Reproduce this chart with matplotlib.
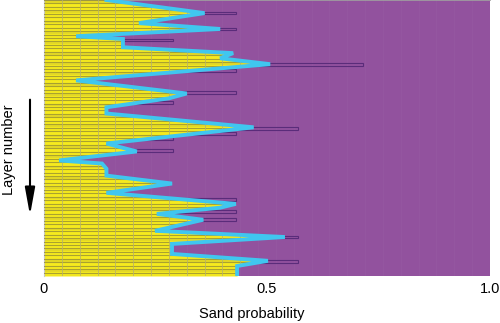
import matplotlib
matplotlib.use("Agg")
import matplotlib.pyplot as plt
import numpy as np
from matplotlib.patches import Polygon

plt.rcParams['font.family'] = ['Liberation Sans', 'DejaVu Sans']

# Profile vertices: layer position (0 = top) and sand probability
layer_pos = [0, 3.8, 6.7, 8.4, 10.5, 11.3, 13.7, 15.4, 16.9, 18.6, 23.3, 27.1, 28.5,
             31.1, 32.9, 36.9, 41.6, 43.9, 46.5, 47.4, 48.9, 50.9, 53.2, 55.9, 59.1,
             60.2, 62.0, 63.7, 66.9, 68.7, 70.7, 73.6, 75.6, 77.1, 80]
sand_prob = [0.14, 0.36, 0.213, 0.395, 0.072, 0.177, 0.177, 0.424, 0.395, 0.507, 0.072,
             0.32, 0.28, 0.14, 0.14, 0.47, 0.14, 0.208, 0.034, 0.13, 0.14, 0.14, 0.287,
             0.14, 0.43, 0.395, 0.253, 0.357, 0.249, 0.54, 0.287, 0.287, 0.502, 0.433, 0.433]

# Upper-bound (outlined) bars
ub_layer = [3.8, 8.4, 11.6, 18.6, 20.4, 26.8, 29.7, 37.2, 38.7, 40.1, 43.6,
            57.9, 61.4, 63.7, 68.7, 75.9]
ub_value = [0.43, 0.43, 0.29, 0.715, 0.43, 0.43, 0.29, 0.57, 0.43, 0.29, 0.29,
            0.43, 0.43, 0.43, 0.57, 0.57]

n_layers = 80
xticks = [0, 0.5, 1.0]
xticklabels = ["0", "0.5", "1.0"]

purple = '#92529e'
yellow = '#f6ea1e'
cyan = '#40c6ef'
olive = '#9d9632'
edge_purple = '#5a2c7a'

fig = plt.figure(figsize=(5.0, 3.23), dpi=100)
ax = fig.add_axes([0.088, 0.1455, 0.892, 0.8545])
ax.set_facecolor(purple)
ax.set_xlim(0, 1)
ax.set_ylim(n_layers, 0)

# very faint vertical lines in purple region
for xv in np.arange(0.04, 1.0, 0.04):
    ax.axvline(xv, color='#9658a2', lw=0.5, zorder=0.5)

# upper-bound outlined bars
ax.barh(ub_layer, ub_value, height=0.8, left=0, fill=False,
        edgecolor=edge_purple, linewidth=0.8, zorder=1)

# yellow filled area
ax.fill_betweenx(layer_pos, 0, sand_prob, color=yellow, lw=0, zorder=2)
verts = np.column_stack([np.r_[0, sand_prob, 0], np.r_[layer_pos[0], layer_pos, layer_pos[-1]]])
clip = Polygon(verts, closed=True, transform=ax.transData, facecolor='none', edgecolor='none')
ax.add_patch(clip)

# layer stripes inside yellow
for i in range(n_layers + 1):
    ln = ax.axhline(i, color=olive, lw=0.8, alpha=0.85, zorder=3)
    ln.set_clip_path(clip)
for i in range(0, n_layers, 3):
    band = ax.axhspan(i + 0.2, i + 0.8, color='#d8cf2a', lw=0, alpha=0.6, zorder=2.5)
    band.set_clip_path(clip)
for xv in np.arange(0.04, 1.0, 0.04):
    ln = ax.axvline(xv, color='#b8b26a', lw=0.7, alpha=0.8, zorder=3)
    ln.set_clip_path(clip)

# profile line
ax.plot(sand_prob, layer_pos, color=cyan, lw=2.8, zorder=4, solid_joinstyle='miter')

ax.set_xticks(xticks)
ax.set_xticklabels(xticklabels, fontsize=10.5)
ax.tick_params(axis='x', length=0, pad=4)
ax.set_yticks([])
for s in ['right', 'bottom']:
    ax.spines[s].set_visible(False)
ax.spines['top'].set_color('#a0a0a0')
ax.spines['top'].set_linewidth(0.6)
ax.spines['left'].set_color('#c8c8c8')
ax.spines['left'].set_linewidth(0.8)

fig.text(0.504, 0.028, "Sand probability", ha='center', va='center', fontsize=10.5)
fig.text(0.018, 0.536, "Layer number", ha='center', va='center', rotation=90, fontsize=10.5)
fig.patches.append(matplotlib.patches.FancyArrowPatch(
    (0.06, 0.70), (0.06, 0.325), transform=fig.transFigure,
    arrowstyle='-|>,head_length=1.65,head_width=0.3', mutation_scale=10,
    color='black', lw=1.5))

fig.savefig("out.png", dpi=100)
